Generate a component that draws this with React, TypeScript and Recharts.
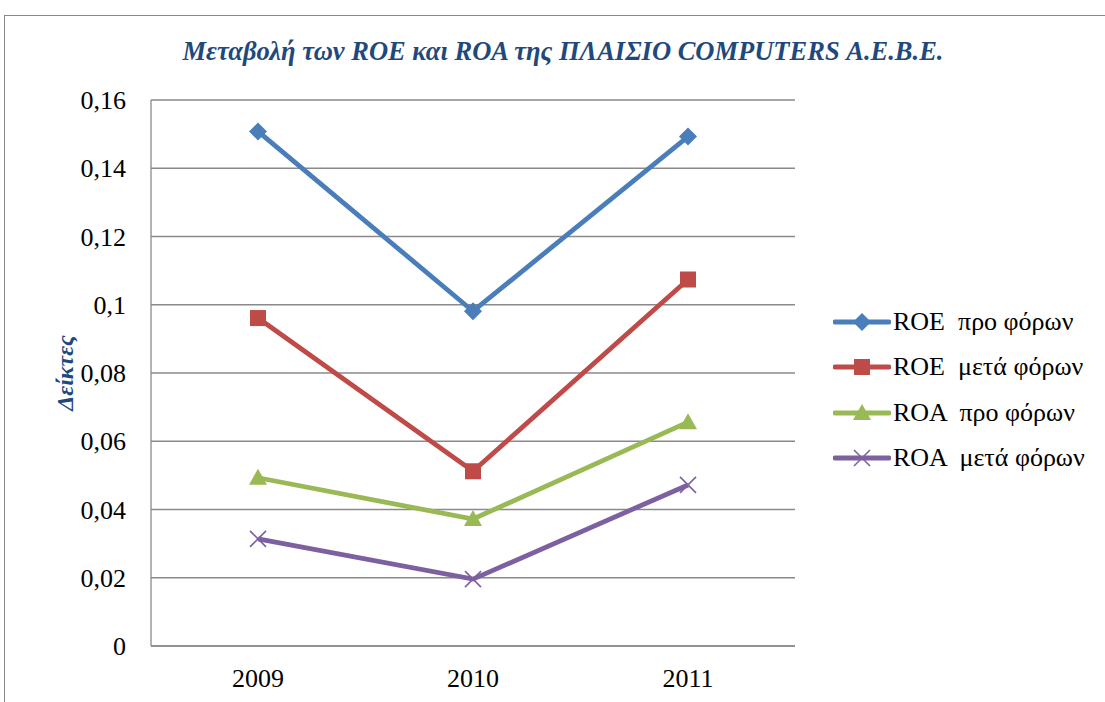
import React from 'react';
import { LineChart, Line, XAxis, YAxis, CartesianGrid, Legend } from 'recharts';

// values
const years = ['2009', '2010', '2011'];
const roePro = [0.1508, 0.0981, 0.1493];
const roeMeta = [0.0961, 0.0512, 0.1074];
const roaPro = [0.0493, 0.0372, 0.0656];
const roaMeta = [0.0314, 0.0196, 0.0472];
const yTicks = [0, 0.02, 0.04, 0.06, 0.08, 0.1, 0.12, 0.14, 0.16];

const seriesNames = ['ROE  προ φόρων', 'ROE  μετά φόρων', 'ROA  προ φόρων', 'ROA  μετά φόρων'];
const seriesColors = ['#4A7EBB', '#BE4B48', '#98B954', '#7D60A0'];
const seriesShapes = ['diamond', 'square', 'triangle', 'cross'];

const data = years.map((y, i) => ({
  year: y,
  s0: roePro[i],
  s1: roeMeta[i],
  s2: roaPro[i],
  s3: roaMeta[i],
}));

const FONT = "'Liberation Serif', 'Times New Roman', serif";
const GRID = '#8A8A8A';

const Marker = ({ shape, cx, cy, color }: { shape: string; cx: number; cy: number; color: string }) => {
  if (shape === 'diamond') {
    const r = 9;
    return <polygon points={`${cx},${cy - r} ${cx + r},${cy} ${cx},${cy + r} ${cx - r},${cy}`} fill={color} />;
  }
  if (shape === 'square') {
    const h = 8;
    return <rect x={cx - h} y={cy - h} width={h * 2} height={h * 2} fill={color} />;
  }
  if (shape === 'triangle') {
    return <polygon points={`${cx},${cy - 9} ${cx + 9},${cy + 7} ${cx - 9},${cy + 7}`} fill={color} />;
  }
  const h = 8;
  return (
    <g stroke={color} strokeWidth={1.6}>
      <line x1={cx - h} y1={cy - h} x2={cx + h} y2={cy + h} />
      <line x1={cx - h} y1={cy + h} x2={cx + h} y2={cy - h} />
    </g>
  );
};

const makeDot = (idx: number) => (props: any) => {
  const { cx, cy, index } = props;
  if (cx == null || cy == null) return <g key={`d${idx}-${index}`} />;
  return (
    <g key={`d${idx}-${index}`}>
      <Marker shape={seriesShapes[idx]} cx={cx} cy={cy} color={seriesColors[idx]} />
    </g>
  );
};

const LegendBox = () => (
  <div style={{ fontFamily: FONT, fontSize: 26, color: '#000' }}>
    {seriesNames.map((name, i) => (
      <div key={name} style={{ display: 'flex', alignItems: 'center', height: 45.5 }}>
        <svg width={58} height={24} style={{ marginRight: 2 }}>
          <line x1={2} y1={12} x2={56} y2={12} stroke={seriesColors[i]} strokeWidth={4.8} strokeLinecap="round" />
          <Marker shape={seriesShapes[i]} cx={29} cy={12} color={seriesColors[i]} />
        </svg>
        <span style={{ whiteSpace: 'pre' }}>{name}</span>
      </div>
    ))}
  </div>
);

const fmt = (v: number) => String(v).replace('.', ',');

const XTick = (props: any) => {
  const { x, y, payload } = props;
  return (
    <text x={x} y={y + 39} textAnchor="middle" style={{ fontFamily: FONT, fontSize: 26, fill: '#000' }}>
      {payload.value}
    </text>
  );
};

const YTick = (props: any) => {
  const { x, y, payload } = props;
  return (
    <text x={x - 23} y={y + 9} textAnchor="end" style={{ fontFamily: FONT, fontSize: 26, fill: '#000' }}>
      {fmt(payload.value)}
    </text>
  );
};

export default function App() {
  return (
    <div style={{ position: 'absolute', left: 0, top: 0, width: 1105, height: 702, background: '#fff', overflow: 'hidden', fontFamily: FONT }}>
      <div style={{ position: 'absolute', left: 4, top: 15, width: 1101, height: 0, borderTop: `1.5px solid ${GRID}` }} />
      <div style={{ position: 'absolute', left: 4, top: 15, width: 0, height: 687, borderLeft: `1.5px solid ${GRID}` }} />
      <div
        style={{
          position: 'absolute',
          left: 0,
          top: 36,
          width: 1126,
          textAlign: 'center',
          fontFamily: FONT,
          fontSize: 26.5,
          fontWeight: 'bold',
          fontStyle: 'italic',
          color: '#1F497D',
        }}
      >
        Μεταβολή των ROE και ROA της ΠΛΑΙΣΙΟ COMPUTERS Α.Ε.Β.Ε.
      </div>
      <div style={{ position: 'absolute', left: 0, top: 0 }}>
        <LineChart width={1105} height={702} data={data} margin={{ top: 100, right: 310, bottom: 6, left: 0 }}>
          <CartesianGrid vertical={false} stroke={GRID} strokeWidth={1.3} />
          <XAxis
            dataKey="year"
            height={50}
            padding={{ left: 107, right: 107 }}
            axisLine={{ stroke: GRID, strokeWidth: 1.3 }}
            tickLine={false}
            tickSize={0}
            tick={<XTick />}
          />
          <YAxis
            width={151}
            domain={[0, 0.16]}
            ticks={yTicks}
            interval={0}
            axisLine={{ stroke: GRID, strokeWidth: 1.3 }}
            tickLine={false}
            tickSize={0}
            tick={<YTick />}
            label={{
              value: 'Δείκτες',
              angle: -90,
              position: 'insideLeft',
              offset: 64,
              style: { fontFamily: FONT, fontSize: 24, fontWeight: 'bold', fontStyle: 'italic', fill: '#1F497D', textAnchor: 'middle' },
            }}
          />
          <Legend
            layout="vertical"
            align="center"
            verticalAlign="middle"
            content={() => <LegendBox />}
            wrapperStyle={{ left: 833, top: 299, width: 272 }}
          />
          {seriesNames.map((name, i) => (
            <Line
              key={name}
              name={name}
              dataKey={`s${i}`}
              stroke={seriesColors[i]}
              strokeWidth={4.8}
              dot={makeDot(i)}
              activeDot={false}
              isAnimationActive={false}
            />
          ))}
        </LineChart>
      </div>
    </div>
  );
}
